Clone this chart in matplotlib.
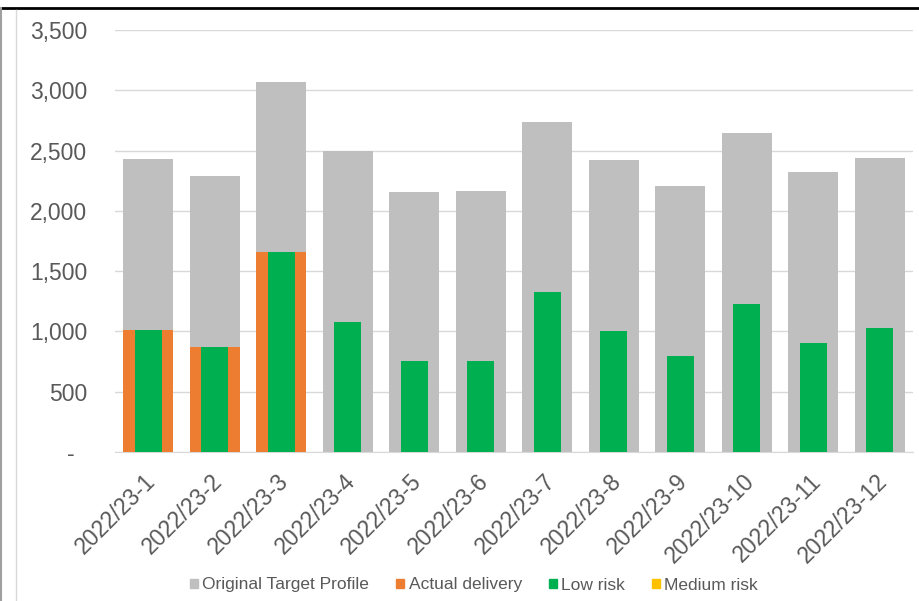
import matplotlib.pyplot as plt
import matplotlib.transforms as mtransforms
import numpy as np
from matplotlib.lines import Line2D
from matplotlib.patches import Patch

plt.rcParams['font.family'] = ['Liberation Sans', 'DejaVu Sans']

periods = ['2022/23-1', '2022/23-2', '2022/23-3', '2022/23-4', '2022/23-5', '2022/23-6',
           '2022/23-7', '2022/23-8', '2022/23-9', '2022/23-10', '2022/23-11', '2022/23-12']
target = [2430, 2289, 3068, 2496, 2156, 2164, 2736, 2421, 2206, 2645, 2322, 2438]
actual = [1012, 871, 1658, 0, 0, 0, 0, 0, 0, 0, 0, 0]
low_risk = [1012, 871, 1658, 1078, 755, 755, 1327, 1003, 796, 1227, 904, 1028]
medium_risk = [0, 0, 0, 0, 0, 0, 0, 0, 0, 0, 0, 0]

text_col = '#595959'
grid_col = '#d9d9d9'

fig = plt.figure(figsize=(9.19, 6.01), dpi=100)
ax = fig.add_axes([115 / 919, 1 - 452 / 601, 798 / 919, 422 / 601])

x = np.arange(len(periods))
ax.bar(x, target, width=0.75, color='#bfbfbf', zorder=2)
ax.bar(x, actual, width=0.75, color='#ed7d31', zorder=3)
ax.bar(x, low_risk, width=0.41, color='#00b050', zorder=4)
ax.bar(x, medium_risk, width=0.41, color='#ffc000', zorder=5)

ax.set_xlim(-0.5, len(periods) - 0.5)
ax.set_ylim(0, 3500)
yt = np.arange(0, 3501, 500)
ax.set_yticks(yt)
ax.set_yticklabels(['-  '] + [f'{v:,}' for v in yt[1:]])
ax.yaxis.grid(True, color=grid_col, lw=1, zorder=0)
ax.set_axisbelow(True)

ax.set_xticks(x)
ax.set_xticklabels(periods, rotation=45, ha='right', rotation_mode='anchor')
ax.tick_params(axis='x', length=0, pad=10, labelsize=16.5, labelcolor=text_col)
ax.tick_params(axis='y', length=0, pad=20, labelsize=16.5, labelcolor=text_col)
shift = mtransforms.ScaledTranslation(-4 / 100, -4 / 100, fig.dpi_scale_trans)
for lab in ax.get_xticklabels():
    lab.set_transform(lab.get_transform() + shift)

for s in ['top', 'right', 'left']:
    ax.spines[s].set_visible(False)
ax.spines['bottom'].set_color(grid_col)

handles = [Patch(color='#bfbfbf'), Patch(color='#ed7d31'), Patch(color='#00b050'), Patch(color='#ffc000')]
labels = ['Original Target Profile', 'Actual delivery', 'Low risk', 'Medium risk']
leg = fig.legend(handles, labels, loc='center', bbox_to_anchor=(474 / 919, 1 - 585 / 601), ncol=4,
                 frameon=False, fontsize=12.5, handlelength=0.46, handleheight=0.46,
                 handletextpad=0.25, columnspacing=1.55, borderpad=0, borderaxespad=0)
for t in leg.get_texts():
    t.set_color(text_col)

# outer chart border pieces visible in the crop
fig.add_artist(Line2D([0, 1], [1 - 8 / 601, 1 - 8 / 601], color='black', lw=2))
fig.add_artist(Line2D([1 / 919, 1 / 919], [0, 1 - 8 / 601], color='#a0a0a0', lw=1.5))
fig.add_artist(Line2D([15.5 / 919, 15.5 / 919], [0, 1 - 10 / 601], color='#d9d9d9', lw=1))

fig.savefig('out.png', dpi=100)
